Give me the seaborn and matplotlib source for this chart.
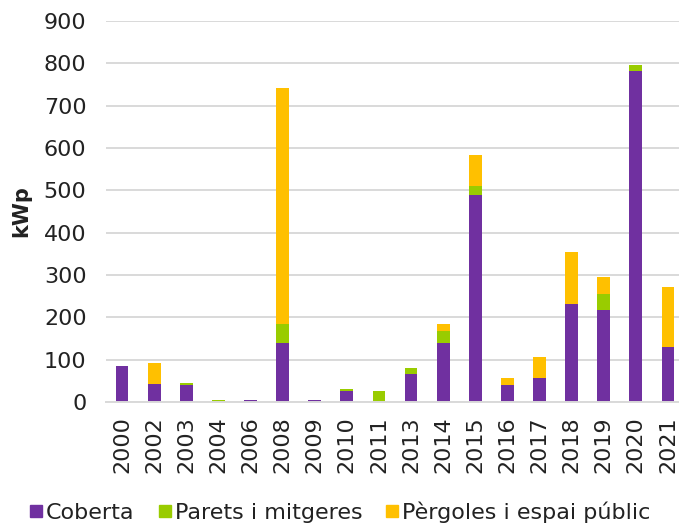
import numpy as np
import pandas as pd
import matplotlib
matplotlib.use("Agg")
import matplotlib.pyplot as plt
from matplotlib.lines import Line2D
import seaborn as sns

years = ["2000", "2002", "2003", "2004", "2006", "2008", "2009", "2010", "2011",
         "2013", "2014", "2015", "2016", "2017", "2018", "2019", "2020", "2021"]
coberta = [85, 42, 39, 0, 4, 140, 4, 25, 0, 66, 139, 488, 39, 57, 231, 217, 782, 130]
parets = [0, 0, 5, 5, 0, 45, 0, 5, 25, 14, 28, 22, 0, 0, 0, 37, 15, 0]
pergoles = [0, 51, 0, 0, 0, 556, 0, 0, 0, 0, 18, 73, 18, 50, 124, 41, 0, 141]

series_names = ["Coberta", "Parets i mitgeres", "Pèrgoles i espai públic"]
colors = ["#7030A0", "#99CC00", "#FFC000"]
yticks = [0, 100, 200, 300, 400, 500, 600, 700, 800, 900]

df = pd.DataFrame({"year": years, "Coberta": coberta,
                   "Parets": parets, "Pergoles": pergoles})
# cumulative heights for stacking: draw the tallest layer first
df["top_green"] = df["Coberta"] + df["Parets"]
df["top_yellow"] = df["top_green"] + df["Pergoles"]

sns.set_theme(style="white")
plt.rcParams["font.family"] = ["DejaVu Sans"]

fig = plt.figure(figsize=(6.79, 5.30), dpi=100)
ax = fig.add_axes([106 / 679, 128 / 530, (684 - 106) / 679, 381 / 530])

text_color = "#222222"
for col, c in zip(["top_yellow", "top_green", "Coberta"], colors[::-1]):
    sns.barplot(data=df, x="year", y=col, color=c, width=0.4, ax=ax,
                order=years, saturation=1, linewidth=0)

ax.set_ylim(0, 900)
ax.set_xlim(-0.5, 17.5)
ax.set_yticks(yticks)
ax.set_yticklabels([str(v) for v in yticks])
ax.yaxis.grid(True, color="#D9D9D9", linewidth=1.4)
ax.set_axisbelow(True)
for s in ["top", "right", "left"]:
    ax.spines[s].set_visible(False)
ax.spines["bottom"].set_color("#D9D9D9")
ax.spines["bottom"].set_linewidth(1.4)

ax.tick_params(axis="y", length=0, pad=14, labelsize=16, labelcolor=text_color)
ax.tick_params(axis="x", length=0, pad=10, labelsize=16, labelcolor=text_color,
               rotation=90)
ax.set_xlabel("")
ax.set_ylabel("kWp", fontsize=15, fontweight="bold", color=text_color, labelpad=9)

handles = [Line2D([0], [0], marker="s", linestyle="none", markersize=9,
                  markerfacecolor=c, markeredgecolor=c) for c in colors]
fig.legend(handles, series_names, loc="lower center", ncol=3,
           bbox_to_anchor=(0.5, -0.025), frameon=False, fontsize=16,
           handletextpad=0.1, columnspacing=1.0, handlelength=0.7,
           labelcolor=text_color)

fig.savefig("out.png", dpi=100)
